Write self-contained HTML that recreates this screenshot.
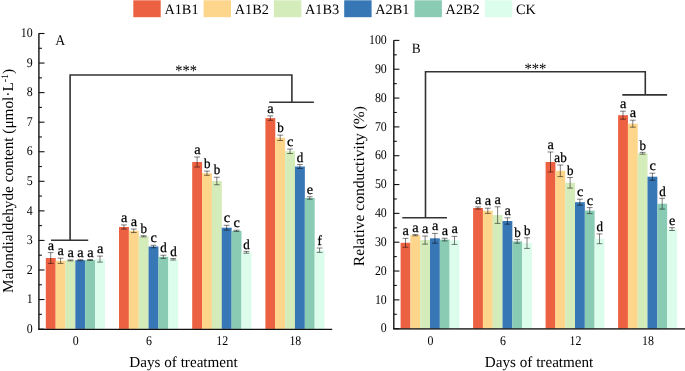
<!DOCTYPE html>
<html><head><meta charset="utf-8"><style>
html,body{margin:0;padding:0;background:#fff;width:685px;height:371px;overflow:hidden;}
svg{display:block;}
text{font-family:"Liberation Serif", serif;fill:#000;text-rendering:geometricPrecision;}
</style></head><body>
<svg width="685" height="371" viewBox="0 0 685 371">

<rect x="133.30" y="0.3" width="27.4" height="16.9" fill="#EC6142"/>
<rect x="203.60" y="0.3" width="27.4" height="16.9" fill="#FDD58B"/>
<rect x="273.90" y="0.3" width="27.4" height="16.9" fill="#D4ECBA"/>
<rect x="344.20" y="0.3" width="27.4" height="16.9" fill="#3877B5"/>
<rect x="414.50" y="0.3" width="27.4" height="16.9" fill="#8ACBB4"/>
<rect x="484.80" y="0.3" width="27.4" height="16.9" fill="#DCFCEC"/>
<rect x="45.80" y="258.00" width="9.90" height="70.90" fill="#EC6142"/>
<rect x="55.65" y="260.80" width="9.90" height="68.10" fill="#FDD58B"/>
<rect x="65.50" y="260.40" width="9.90" height="68.50" fill="#D4ECBA"/>
<rect x="75.35" y="260.20" width="9.90" height="68.70" fill="#3877B5"/>
<rect x="85.20" y="260.00" width="9.90" height="68.90" fill="#8ACBB4"/>
<rect x="95.05" y="259.10" width="9.90" height="69.80" fill="#DCFCEC"/>
<rect x="119.00" y="227.00" width="9.90" height="101.90" fill="#EC6142"/>
<rect x="128.85" y="230.80" width="9.90" height="98.10" fill="#FDD58B"/>
<rect x="138.70" y="236.30" width="9.90" height="92.60" fill="#D4ECBA"/>
<rect x="148.55" y="246.50" width="9.90" height="82.40" fill="#3877B5"/>
<rect x="158.40" y="256.80" width="9.90" height="72.10" fill="#8ACBB4"/>
<rect x="168.25" y="259.30" width="9.90" height="69.60" fill="#DCFCEC"/>
<rect x="192.20" y="162.00" width="9.90" height="166.90" fill="#EC6142"/>
<rect x="202.05" y="173.20" width="9.90" height="155.70" fill="#FDD58B"/>
<rect x="211.90" y="181.00" width="9.90" height="147.90" fill="#D4ECBA"/>
<rect x="221.75" y="227.70" width="9.90" height="101.20" fill="#3877B5"/>
<rect x="231.60" y="230.80" width="9.90" height="98.10" fill="#8ACBB4"/>
<rect x="241.45" y="252.30" width="9.90" height="76.60" fill="#DCFCEC"/>
<rect x="265.40" y="118.10" width="9.90" height="210.80" fill="#EC6142"/>
<rect x="275.25" y="137.80" width="9.90" height="191.10" fill="#FDD58B"/>
<rect x="285.10" y="151.30" width="9.90" height="177.60" fill="#D4ECBA"/>
<rect x="294.95" y="166.50" width="9.90" height="162.40" fill="#3877B5"/>
<rect x="304.80" y="198.00" width="9.90" height="130.90" fill="#8ACBB4"/>
<rect x="314.65" y="250.20" width="9.90" height="78.70" fill="#DCFCEC"/>
<path d="M47.82 252.60H53.62M50.72 252.60V263.40M47.82 263.40H53.62" stroke="#000" stroke-opacity="0.5" stroke-width="1" fill="none"/>
<path d="M57.67 258.20H63.47M60.57 258.20V263.40M57.67 263.40H63.47" stroke="#000" stroke-opacity="0.5" stroke-width="1" fill="none"/>
<path d="M67.52 259.90H73.33M70.42 259.90V260.90M67.52 260.90H73.33" stroke="#000" stroke-opacity="0.5" stroke-width="1" fill="none"/>
<path d="M77.38 259.70H83.18M80.28 259.70V260.70M77.38 260.70H83.18" stroke="#000" stroke-opacity="0.5" stroke-width="1" fill="none"/>
<path d="M87.22 259.50H93.03M90.12 259.50V260.50M87.22 260.50H93.03" stroke="#000" stroke-opacity="0.5" stroke-width="1" fill="none"/>
<path d="M97.07 256.10H102.88M99.97 256.10V262.10M97.07 262.10H102.88" stroke="#000" stroke-opacity="0.5" stroke-width="1" fill="none"/>
<path d="M121.02 224.95H126.83M123.92 224.95V229.05M121.02 229.05H126.83" stroke="#000" stroke-opacity="0.5" stroke-width="1" fill="none"/>
<path d="M130.88 229.05H136.68M133.78 229.05V232.55M130.88 232.55H136.68" stroke="#000" stroke-opacity="0.5" stroke-width="1" fill="none"/>
<path d="M140.72 235.70H146.53M143.62 235.70V236.90M140.72 236.90H146.53" stroke="#000" stroke-opacity="0.5" stroke-width="1" fill="none"/>
<path d="M150.57 245.25H156.38M153.47 245.25V247.75M150.57 247.75H156.38" stroke="#000" stroke-opacity="0.5" stroke-width="1" fill="none"/>
<path d="M160.42 255.25H166.22M163.32 255.25V258.35M160.42 258.35H166.22" stroke="#000" stroke-opacity="0.5" stroke-width="1" fill="none"/>
<path d="M170.28 258.55H176.08M173.18 258.55V260.05M170.28 260.05H176.08" stroke="#000" stroke-opacity="0.5" stroke-width="1" fill="none"/>
<path d="M194.22 157.00H200.03M197.12 157.00V167.00M194.22 167.00H200.03" stroke="#000" stroke-opacity="0.5" stroke-width="1" fill="none"/>
<path d="M204.07 171.10H209.88M206.97 171.10V175.30M204.07 175.30H209.88" stroke="#000" stroke-opacity="0.5" stroke-width="1" fill="none"/>
<path d="M213.92 177.25H219.72M216.82 177.25V184.75M213.92 184.75H219.72" stroke="#000" stroke-opacity="0.5" stroke-width="1" fill="none"/>
<path d="M223.77 225.30H229.57M226.67 225.30V230.10M223.77 230.10H229.57" stroke="#000" stroke-opacity="0.5" stroke-width="1" fill="none"/>
<path d="M233.62 230.20H239.42M236.52 230.20V231.40M233.62 231.40H239.42" stroke="#000" stroke-opacity="0.5" stroke-width="1" fill="none"/>
<path d="M243.47 251.40H249.28M246.38 251.40V253.20M243.47 253.20H249.28" stroke="#000" stroke-opacity="0.5" stroke-width="1" fill="none"/>
<path d="M267.43 115.90H273.23M270.33 115.90V120.30M267.43 120.30H273.23" stroke="#000" stroke-opacity="0.5" stroke-width="1" fill="none"/>
<path d="M277.28 135.10H283.07M280.18 135.10V140.50M277.28 140.50H283.07" stroke="#000" stroke-opacity="0.5" stroke-width="1" fill="none"/>
<path d="M287.13 149.10H292.93M290.03 149.10V153.50M287.13 153.50H292.93" stroke="#000" stroke-opacity="0.5" stroke-width="1" fill="none"/>
<path d="M296.98 164.60H302.78M299.88 164.60V168.40M296.98 168.40H302.78" stroke="#000" stroke-opacity="0.5" stroke-width="1" fill="none"/>
<path d="M306.83 196.80H312.62M309.73 196.80V199.20M306.83 199.20H312.62" stroke="#000" stroke-opacity="0.5" stroke-width="1" fill="none"/>
<path d="M316.68 248.00H322.48M319.58 248.00V252.40M316.68 252.40H322.48" stroke="#000" stroke-opacity="0.5" stroke-width="1" fill="none"/>
<path d="M38.90 33.20V329.20" stroke="#222" stroke-width="1.5" fill="none"/>
<path d="M38.15 329.35H332.20" stroke="#111" stroke-width="1.15" fill="none"/>
<path d="M38.90 329.10h5.6" stroke="#111" stroke-width="1.1"/>
<path d="M38.90 314.32h3" stroke="#111" stroke-width="1.1"/>
<path d="M38.90 299.54h5.6" stroke="#111" stroke-width="1.1"/>
<path d="M38.90 284.76h3" stroke="#111" stroke-width="1.1"/>
<path d="M38.90 269.98h5.6" stroke="#111" stroke-width="1.1"/>
<path d="M38.90 255.20h3" stroke="#111" stroke-width="1.1"/>
<path d="M38.90 240.42h5.6" stroke="#111" stroke-width="1.1"/>
<path d="M38.90 225.64h3" stroke="#111" stroke-width="1.1"/>
<path d="M38.90 210.86h5.6" stroke="#111" stroke-width="1.1"/>
<path d="M38.90 196.08h3" stroke="#111" stroke-width="1.1"/>
<path d="M38.90 181.30h5.6" stroke="#111" stroke-width="1.1"/>
<path d="M38.90 166.52h3" stroke="#111" stroke-width="1.1"/>
<path d="M38.90 151.74h5.6" stroke="#111" stroke-width="1.1"/>
<path d="M38.90 136.96h3" stroke="#111" stroke-width="1.1"/>
<path d="M38.90 122.18h5.6" stroke="#111" stroke-width="1.1"/>
<path d="M38.90 107.40h3" stroke="#111" stroke-width="1.1"/>
<path d="M38.90 92.62h5.6" stroke="#111" stroke-width="1.1"/>
<path d="M38.90 77.84h3" stroke="#111" stroke-width="1.1"/>
<path d="M38.90 63.06h5.6" stroke="#111" stroke-width="1.1"/>
<path d="M38.90 48.28h3" stroke="#111" stroke-width="1.1"/>
<path d="M38.90 33.50h5.6" stroke="#111" stroke-width="1.1"/>
<rect x="400.60" y="242.80" width="9.85" height="85.70" fill="#EC6142"/>
<rect x="410.40" y="235.20" width="9.85" height="93.30" fill="#FDD58B"/>
<rect x="420.20" y="240.10" width="9.85" height="88.40" fill="#D4ECBA"/>
<rect x="430.00" y="238.30" width="9.85" height="90.20" fill="#3877B5"/>
<rect x="439.80" y="239.60" width="9.85" height="88.90" fill="#8ACBB4"/>
<rect x="449.60" y="240.40" width="9.85" height="88.10" fill="#DCFCEC"/>
<rect x="473.10" y="208.00" width="9.85" height="120.50" fill="#EC6142"/>
<rect x="482.90" y="210.80" width="9.85" height="117.70" fill="#FDD58B"/>
<rect x="492.70" y="215.10" width="9.85" height="113.40" fill="#D4ECBA"/>
<rect x="502.50" y="221.00" width="9.85" height="107.50" fill="#3877B5"/>
<rect x="512.30" y="241.40" width="9.85" height="87.10" fill="#8ACBB4"/>
<rect x="522.10" y="243.10" width="9.85" height="85.40" fill="#DCFCEC"/>
<rect x="545.60" y="162.00" width="9.85" height="166.50" fill="#EC6142"/>
<rect x="555.40" y="170.80" width="9.85" height="157.70" fill="#FDD58B"/>
<rect x="565.20" y="182.80" width="9.85" height="145.70" fill="#D4ECBA"/>
<rect x="575.00" y="202.20" width="9.85" height="126.30" fill="#3877B5"/>
<rect x="584.80" y="210.60" width="9.85" height="117.90" fill="#8ACBB4"/>
<rect x="594.60" y="238.80" width="9.85" height="89.70" fill="#DCFCEC"/>
<rect x="618.10" y="115.20" width="9.85" height="213.30" fill="#EC6142"/>
<rect x="627.90" y="123.70" width="9.85" height="204.80" fill="#FDD58B"/>
<rect x="637.70" y="153.30" width="9.85" height="175.20" fill="#D4ECBA"/>
<rect x="647.50" y="176.70" width="9.85" height="151.80" fill="#3877B5"/>
<rect x="657.30" y="203.70" width="9.85" height="124.80" fill="#8ACBB4"/>
<rect x="667.10" y="229.10" width="9.85" height="99.40" fill="#DCFCEC"/>
<path d="M402.60 238.35H408.40M405.50 238.35V247.25M402.60 247.25H408.40" stroke="#000" stroke-opacity="0.5" stroke-width="1" fill="none"/>
<path d="M412.40 234.60H418.20M415.30 234.60V235.80M412.40 235.80H418.20" stroke="#000" stroke-opacity="0.5" stroke-width="1" fill="none"/>
<path d="M422.20 236.05H428.00M425.10 236.05V244.15M422.20 244.15H428.00" stroke="#000" stroke-opacity="0.5" stroke-width="1" fill="none"/>
<path d="M432.00 233.40H437.80M434.90 233.40V243.20M432.00 243.20H437.80" stroke="#000" stroke-opacity="0.5" stroke-width="1" fill="none"/>
<path d="M441.80 238.25H447.60M444.70 238.25V240.95M441.80 240.95H447.60" stroke="#000" stroke-opacity="0.5" stroke-width="1" fill="none"/>
<path d="M451.60 236.35H457.40M454.50 236.35V244.45M451.60 244.45H457.40" stroke="#000" stroke-opacity="0.5" stroke-width="1" fill="none"/>
<path d="M475.10 206.90H480.90M478.00 206.90V209.10M475.10 209.10H480.90" stroke="#000" stroke-opacity="0.5" stroke-width="1" fill="none"/>
<path d="M484.90 208.20H490.70M487.80 208.20V213.40M484.90 213.40H490.70" stroke="#000" stroke-opacity="0.5" stroke-width="1" fill="none"/>
<path d="M494.70 206.80H500.50M497.60 206.80V223.40M494.70 223.40H500.50" stroke="#000" stroke-opacity="0.5" stroke-width="1" fill="none"/>
<path d="M504.50 217.80H510.30M507.40 217.80V224.20M504.50 224.20H510.30" stroke="#000" stroke-opacity="0.5" stroke-width="1" fill="none"/>
<path d="M514.30 239.60H520.10M517.20 239.60V243.20M514.30 243.20H520.10" stroke="#000" stroke-opacity="0.5" stroke-width="1" fill="none"/>
<path d="M524.10 237.80H529.90M527.00 237.80V248.40M524.10 248.40H529.90" stroke="#000" stroke-opacity="0.5" stroke-width="1" fill="none"/>
<path d="M547.60 152.00H553.40M550.50 152.00V172.00M547.60 172.00H553.40" stroke="#000" stroke-opacity="0.5" stroke-width="1" fill="none"/>
<path d="M557.40 165.00H563.20M560.30 165.00V176.60M557.40 176.60H563.20" stroke="#000" stroke-opacity="0.5" stroke-width="1" fill="none"/>
<path d="M567.20 177.50H573.00M570.10 177.50V188.10M567.20 188.10H573.00" stroke="#000" stroke-opacity="0.5" stroke-width="1" fill="none"/>
<path d="M577.00 199.20H582.80M579.90 199.20V205.20M577.00 205.20H582.80" stroke="#000" stroke-opacity="0.5" stroke-width="1" fill="none"/>
<path d="M586.80 207.60H592.60M589.70 207.60V213.60M586.80 213.60H592.60" stroke="#000" stroke-opacity="0.5" stroke-width="1" fill="none"/>
<path d="M596.60 233.90H602.40M599.50 233.90V243.70M596.60 243.70H602.40" stroke="#000" stroke-opacity="0.5" stroke-width="1" fill="none"/>
<path d="M620.10 111.20H625.90M623.00 111.20V119.20M620.10 119.20H625.90" stroke="#000" stroke-opacity="0.5" stroke-width="1" fill="none"/>
<path d="M629.90 120.20H635.70M632.80 120.20V127.20M629.90 127.20H635.70" stroke="#000" stroke-opacity="0.5" stroke-width="1" fill="none"/>
<path d="M639.70 152.40H645.50M642.60 152.40V154.20M639.70 154.20H645.50" stroke="#000" stroke-opacity="0.5" stroke-width="1" fill="none"/>
<path d="M649.50 173.20H655.30M652.40 173.20V180.20M649.50 180.20H655.30" stroke="#000" stroke-opacity="0.5" stroke-width="1" fill="none"/>
<path d="M659.30 198.30H665.10M662.20 198.30V209.10M659.30 209.10H665.10" stroke="#000" stroke-opacity="0.5" stroke-width="1" fill="none"/>
<path d="M669.10 227.70H674.90M672.00 227.70V230.50M669.10 230.50H674.90" stroke="#000" stroke-opacity="0.5" stroke-width="1" fill="none"/>
<path d="M393.80 40.20V328.80" stroke="#222" stroke-width="1.5" fill="none"/>
<path d="M393.05 328.9H685.00" stroke="#000" stroke-opacity="0.72" stroke-width="1.6" fill="none"/>
<path d="M393.80 328.70h5.6" stroke="#111" stroke-width="1.1"/>
<path d="M393.80 314.28h3" stroke="#111" stroke-width="1.1"/>
<path d="M393.80 299.87h5.6" stroke="#111" stroke-width="1.1"/>
<path d="M393.80 285.45h3" stroke="#111" stroke-width="1.1"/>
<path d="M393.80 271.04h5.6" stroke="#111" stroke-width="1.1"/>
<path d="M393.80 256.62h3" stroke="#111" stroke-width="1.1"/>
<path d="M393.80 242.21h5.6" stroke="#111" stroke-width="1.1"/>
<path d="M393.80 227.79h3" stroke="#111" stroke-width="1.1"/>
<path d="M393.80 213.38h5.6" stroke="#111" stroke-width="1.1"/>
<path d="M393.80 198.96h3" stroke="#111" stroke-width="1.1"/>
<path d="M393.80 184.55h5.6" stroke="#111" stroke-width="1.1"/>
<path d="M393.80 170.13h3" stroke="#111" stroke-width="1.1"/>
<path d="M393.80 155.72h5.6" stroke="#111" stroke-width="1.1"/>
<path d="M393.80 141.30h3" stroke="#111" stroke-width="1.1"/>
<path d="M393.80 126.89h5.6" stroke="#111" stroke-width="1.1"/>
<path d="M393.80 112.48h3" stroke="#111" stroke-width="1.1"/>
<path d="M393.80 98.06h5.6" stroke="#111" stroke-width="1.1"/>
<path d="M393.80 83.64h3" stroke="#111" stroke-width="1.1"/>
<path d="M393.80 69.23h5.6" stroke="#111" stroke-width="1.1"/>
<path d="M393.80 54.82h3" stroke="#111" stroke-width="1.1"/>
<path d="M393.80 40.40h5.6" stroke="#111" stroke-width="1.1"/>
<path d="M70.1 240.2V75H291.9V102.2M51 240.2H88.2M269.2 102.2H313.9" stroke="#333" stroke-width="1.6" fill="none"/>
<path d="M425.5 217.8V71.8H645.3V94.9M402.3 217.8H447M622.3 94.9H667.1" stroke="#333" stroke-width="1.6" fill="none"/>
<g style="filter:grayscale(1)">
<text x="164.40" y="13.7" font-size="14.3">A1B1</text>
<text x="234.70" y="13.7" font-size="14.3">A1B2</text>
<text x="305.00" y="13.7" font-size="14.3">A1B3</text>
<text x="375.30" y="13.7" font-size="14.3">A2B1</text>
<text x="445.60" y="13.7" font-size="14.3">A2B2</text>
<text x="515.90" y="13.7" font-size="14.3">CK</text>
<text transform="translate(50.92 249.60) scale(1.1 1.08)" text-anchor="middle" font-size="13" stroke="#000" stroke-width="0.25">a</text>
<text transform="translate(60.77 255.20) scale(1.1 1.08)" text-anchor="middle" font-size="13" stroke="#000" stroke-width="0.25">a</text>
<text transform="translate(70.62 256.90) scale(1.1 1.08)" text-anchor="middle" font-size="13" stroke="#000" stroke-width="0.25">a</text>
<text transform="translate(80.48 256.70) scale(1.1 1.08)" text-anchor="middle" font-size="13" stroke="#000" stroke-width="0.25">a</text>
<text transform="translate(90.33 256.50) scale(1.1 1.08)" text-anchor="middle" font-size="13" stroke="#000" stroke-width="0.25">a</text>
<text transform="translate(100.17 253.10) scale(1.1 1.08)" text-anchor="middle" font-size="13" stroke="#000" stroke-width="0.25">a</text>
<text transform="translate(124.12 221.95) scale(1.1 1.08)" text-anchor="middle" font-size="13" stroke="#000" stroke-width="0.25">a</text>
<text transform="translate(133.97 226.05) scale(1.1 1.08)" text-anchor="middle" font-size="13" stroke="#000" stroke-width="0.25">a</text>
<text transform="translate(143.82 232.90) scale(1.0 1.06)" text-anchor="middle" font-size="13" stroke="#000" stroke-width="0.25">b</text>
<text transform="translate(153.67 242.25) scale(1.1 1.08)" text-anchor="middle" font-size="13" stroke="#000" stroke-width="0.25">c</text>
<text transform="translate(163.52 252.45) scale(1.0 1.06)" text-anchor="middle" font-size="13" stroke="#000" stroke-width="0.25">d</text>
<text transform="translate(173.38 255.75) scale(1.0 1.06)" text-anchor="middle" font-size="13" stroke="#000" stroke-width="0.25">d</text>
<text transform="translate(197.32 154.00) scale(1.1 1.08)" text-anchor="middle" font-size="13" stroke="#000" stroke-width="0.25">a</text>
<text transform="translate(207.17 168.30) scale(1.0 1.06)" text-anchor="middle" font-size="13" stroke="#000" stroke-width="0.25">b</text>
<text transform="translate(217.02 174.45) scale(1.0 1.06)" text-anchor="middle" font-size="13" stroke="#000" stroke-width="0.25">b</text>
<text transform="translate(226.87 222.30) scale(1.1 1.08)" text-anchor="middle" font-size="13" stroke="#000" stroke-width="0.25">c</text>
<text transform="translate(236.72 227.20) scale(1.1 1.08)" text-anchor="middle" font-size="13" stroke="#000" stroke-width="0.25">c</text>
<text transform="translate(246.57 248.60) scale(1.0 1.06)" text-anchor="middle" font-size="13" stroke="#000" stroke-width="0.25">d</text>
<text transform="translate(270.53 112.90) scale(1.1 1.08)" text-anchor="middle" font-size="13" stroke="#000" stroke-width="0.25">a</text>
<text transform="translate(280.38 132.30) scale(1.0 1.06)" text-anchor="middle" font-size="13" stroke="#000" stroke-width="0.25">b</text>
<text transform="translate(290.23 146.10) scale(1.1 1.08)" text-anchor="middle" font-size="13" stroke="#000" stroke-width="0.25">c</text>
<text transform="translate(300.08 161.80) scale(1.0 1.06)" text-anchor="middle" font-size="13" stroke="#000" stroke-width="0.25">d</text>
<text transform="translate(309.93 193.80) scale(1.1 1.08)" text-anchor="middle" font-size="13" stroke="#000" stroke-width="0.25">e</text>
<text transform="translate(319.78 245.20) scale(1.0 1.06)" text-anchor="middle" font-size="13" stroke="#000" stroke-width="0.25">f</text>
<text transform="translate(32.60 332.80) scale(1 1.12)" text-anchor="end" font-size="11.9">0</text>
<text transform="translate(32.60 303.24) scale(1 1.12)" text-anchor="end" font-size="11.9">1</text>
<text transform="translate(32.60 273.68) scale(1 1.12)" text-anchor="end" font-size="11.9">2</text>
<text transform="translate(32.60 244.12) scale(1 1.12)" text-anchor="end" font-size="11.9">3</text>
<text transform="translate(32.60 214.56) scale(1 1.12)" text-anchor="end" font-size="11.9">4</text>
<text transform="translate(32.60 185.00) scale(1 1.12)" text-anchor="end" font-size="11.9">5</text>
<text transform="translate(32.60 155.44) scale(1 1.12)" text-anchor="end" font-size="11.9">6</text>
<text transform="translate(32.60 125.88) scale(1 1.12)" text-anchor="end" font-size="11.9">7</text>
<text transform="translate(32.60 96.32) scale(1 1.12)" text-anchor="end" font-size="11.9">8</text>
<text transform="translate(32.60 66.76) scale(1 1.12)" text-anchor="end" font-size="11.9">9</text>
<text transform="translate(32.60 37.20) scale(1 1.12)" text-anchor="end" font-size="11.9">10</text>
<text transform="translate(75.75 344.5) scale(1 1.12)" text-anchor="middle" font-size="11.9">0</text>
<text transform="translate(148.95 344.5) scale(1 1.12)" text-anchor="middle" font-size="11.9">6</text>
<text transform="translate(222.15 344.5) scale(1 1.12)" text-anchor="middle" font-size="11.9">12</text>
<text transform="translate(295.35 344.5) scale(1 1.12)" text-anchor="middle" font-size="11.9">18</text>
<text transform="translate(405.70 235.35) scale(1.1 1.08)" text-anchor="middle" font-size="13" stroke="#000" stroke-width="0.25">a</text>
<text transform="translate(415.50 231.60) scale(1.1 1.08)" text-anchor="middle" font-size="13" stroke="#000" stroke-width="0.25">a</text>
<text transform="translate(425.30 233.05) scale(1.1 1.08)" text-anchor="middle" font-size="13" stroke="#000" stroke-width="0.25">a</text>
<text transform="translate(435.10 230.40) scale(1.1 1.08)" text-anchor="middle" font-size="13" stroke="#000" stroke-width="0.25">a</text>
<text transform="translate(444.90 235.25) scale(1.1 1.08)" text-anchor="middle" font-size="13" stroke="#000" stroke-width="0.25">a</text>
<text transform="translate(454.70 233.35) scale(1.1 1.08)" text-anchor="middle" font-size="13" stroke="#000" stroke-width="0.25">a</text>
<text transform="translate(478.20 203.90) scale(1.1 1.08)" text-anchor="middle" font-size="13" stroke="#000" stroke-width="0.25">a</text>
<text transform="translate(488.00 205.20) scale(1.1 1.08)" text-anchor="middle" font-size="13" stroke="#000" stroke-width="0.25">a</text>
<text transform="translate(497.80 203.80) scale(1.1 1.08)" text-anchor="middle" font-size="13" stroke="#000" stroke-width="0.25">a</text>
<text transform="translate(507.60 214.80) scale(1.1 1.08)" text-anchor="middle" font-size="13" stroke="#000" stroke-width="0.25">a</text>
<text transform="translate(517.40 236.80) scale(1.0 1.06)" text-anchor="middle" font-size="13" stroke="#000" stroke-width="0.25">b</text>
<text transform="translate(527.20 235.00) scale(1.0 1.06)" text-anchor="middle" font-size="13" stroke="#000" stroke-width="0.25">b</text>
<text transform="translate(550.70 149.00) scale(1.1 1.08)" text-anchor="middle" font-size="13" stroke="#000" stroke-width="0.25">a</text>
<text transform="translate(560.50 162.20) scale(1.0 1.07)" text-anchor="middle" font-size="13" stroke="#000" stroke-width="0.25">ab</text>
<text transform="translate(570.30 174.70) scale(1.0 1.06)" text-anchor="middle" font-size="13" stroke="#000" stroke-width="0.25">b</text>
<text transform="translate(580.10 196.20) scale(1.1 1.08)" text-anchor="middle" font-size="13" stroke="#000" stroke-width="0.25">c</text>
<text transform="translate(589.90 204.60) scale(1.1 1.08)" text-anchor="middle" font-size="13" stroke="#000" stroke-width="0.25">c</text>
<text transform="translate(599.70 231.10) scale(1.0 1.06)" text-anchor="middle" font-size="13" stroke="#000" stroke-width="0.25">d</text>
<text transform="translate(623.20 108.20) scale(1.1 1.08)" text-anchor="middle" font-size="13" stroke="#000" stroke-width="0.25">a</text>
<text transform="translate(633.00 117.20) scale(1.1 1.08)" text-anchor="middle" font-size="13" stroke="#000" stroke-width="0.25">a</text>
<text transform="translate(642.80 149.60) scale(1.0 1.06)" text-anchor="middle" font-size="13" stroke="#000" stroke-width="0.25">b</text>
<text transform="translate(652.60 170.20) scale(1.1 1.08)" text-anchor="middle" font-size="13" stroke="#000" stroke-width="0.25">c</text>
<text transform="translate(662.40 195.50) scale(1.0 1.06)" text-anchor="middle" font-size="13" stroke="#000" stroke-width="0.25">d</text>
<text transform="translate(672.20 224.70) scale(1.1 1.08)" text-anchor="middle" font-size="13" stroke="#000" stroke-width="0.25">e</text>
<text transform="translate(386.80 332.40) scale(1 1.12)" text-anchor="end" font-size="11.9">0</text>
<text transform="translate(386.80 303.57) scale(1 1.12)" text-anchor="end" font-size="11.9">10</text>
<text transform="translate(386.80 274.74) scale(1 1.12)" text-anchor="end" font-size="11.9">20</text>
<text transform="translate(386.80 245.91) scale(1 1.12)" text-anchor="end" font-size="11.9">30</text>
<text transform="translate(386.80 217.08) scale(1 1.12)" text-anchor="end" font-size="11.9">40</text>
<text transform="translate(386.80 188.25) scale(1 1.12)" text-anchor="end" font-size="11.9">50</text>
<text transform="translate(386.80 159.42) scale(1 1.12)" text-anchor="end" font-size="11.9">60</text>
<text transform="translate(386.80 130.59) scale(1 1.12)" text-anchor="end" font-size="11.9">70</text>
<text transform="translate(386.80 101.76) scale(1 1.12)" text-anchor="end" font-size="11.9">80</text>
<text transform="translate(386.80 72.93) scale(1 1.12)" text-anchor="end" font-size="11.9">90</text>
<text transform="translate(386.80 44.10) scale(1 1.12)" text-anchor="end" font-size="11.9">100</text>
<text transform="translate(430.40 344.5) scale(1 1.12)" text-anchor="middle" font-size="11.9">0</text>
<text transform="translate(502.90 344.5) scale(1 1.12)" text-anchor="middle" font-size="11.9">6</text>
<text transform="translate(575.40 344.5) scale(1 1.12)" text-anchor="middle" font-size="11.9">12</text>
<text transform="translate(647.90 344.5) scale(1 1.12)" text-anchor="middle" font-size="11.9">18</text>
<text transform="translate(186.1 76.4) scale(1.03 1.18)" text-anchor="middle" font-size="14">***</text>
<text transform="translate(535.4 73.5) scale(1.05 1.15)" text-anchor="middle" font-size="14">***</text>
<text transform="translate(55.3 44.5) scale(1 1.07)" font-size="13.8">A</text>
<text transform="translate(411.8 52.6) scale(1 1.07)" font-size="13.3">B</text>
<text x="183.6" y="366.6" text-anchor="middle" font-size="15.15">Days of treatment</text>
<text x="539.1" y="366.6" text-anchor="middle" font-size="15.15">Days of treatment</text>
<text transform="translate(13.3 292.9) rotate(-90)" font-size="15.25">Malondialdehyde content (μmol·L<tspan dy="-5.6" font-size="10">-1</tspan><tspan dy="5.6">)</tspan></text>
<text transform="translate(363.5 266.2) rotate(-90)" font-size="15.5">Relative conductivity (%)</text>
</g>
</svg></body></html>
